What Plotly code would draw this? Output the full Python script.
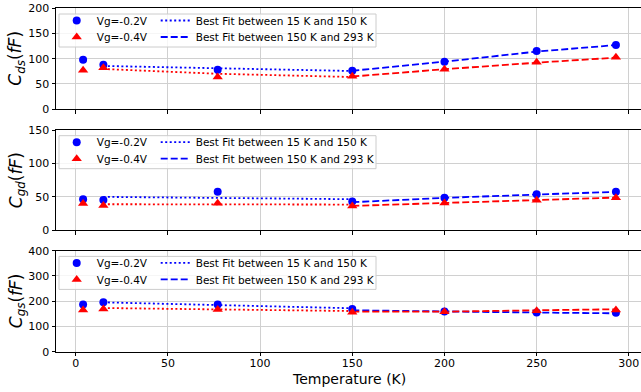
import plotly.graph_objects as go
from plotly.subplots import make_subplots

# ---------------- data ----------------
temps = [4, 15, 77, 150, 200, 250, 293]
fit_low_t = [15, 77, 150]
fit_high_t = [150, 200, 250, 293]

# Cds (fF)
cds_m02 = [98, 88, 78, 76, 94, 115, 127]
cds_m04 = [77, 82, 63.5, 65, 79, 93, 103]
cds_fit_low_m02 = [85.5, 80.5, 75.5]
cds_fit_low_m04 = [79.5, 70, 63.5]
cds_fit_high_m02 = [76, 94, 114, 127]
cds_fit_high_m04 = [64.5, 79, 92, 102]

# Cgd (fF)
cgd_m02 = [46.5, 45.5, 57.5, 43, 48.5, 54, 57.5]
cgd_m04 = [40, 37, 40.5, 36.5, 41, 45, 48.5]
cgd_fit_low_m02 = [50, 48.5, 46.5]
cgd_fit_low_m04 = [39, 39, 38.5]
cgd_fit_high_m02 = [42, 48.5, 53.5, 57.5]
cgd_fit_high_m04 = [36.5, 41, 45, 49]

# Cgs (fF)
cgs_m02 = [187, 196, 187, 169, 159, 155, 154]
cgs_m04 = [165, 169, 167, 156, 158, 162, 165]
cgs_fit_low_m02 = [195.5, 185, 172]
cgs_fit_low_m04 = [173, 168, 161]
cgs_fit_high_m02 = [164, 158.5, 155, 152]
cgs_fit_high_m04 = [158.5, 158.5, 164, 168]

y_titles = ["<i>C</i><sub><i>ds</i></sub>(<i>fF</i>)",
            "<i>C</i><sub><i>gd</i></sub>(<i>fF</i>)",
            "<i>C</i><sub><i>gs</i></sub>(<i>fF</i>)"]
y_ranges = [[0, 200], [0, 150], [0, 400]]
y_dticks = [50, 50, 100]
x_ticks = [0, 50, 100, 150, 200, 250, 300]
x_title = "Temperature (K)"
lbl_m02 = "Vg=-0.2V"
lbl_m04 = "Vg=-0.4V"
lbl_fit_low = "Best Fit between 15 K and 150 K"
lbl_fit_high = "Best Fit between 150 K and 293 K"

panels = [
    (cds_m02, cds_m04, cds_fit_low_m02, cds_fit_low_m04, cds_fit_high_m02, cds_fit_high_m04),
    (cgd_m02, cgd_m04, cgd_fit_low_m02, cgd_fit_low_m04, cgd_fit_high_m02, cgd_fit_high_m04),
    (cgs_m02, cgs_m04, cgs_fit_low_m02, cgs_fit_low_m04, cgs_fit_high_m02, cgs_fit_high_m04),
]

# ---------------- layout geometry (pixels) ----------------
W, H = 641, 392
ML = 56
PW = W - ML
panel_px = [(8.3, 109.0), (130.0, 230.3), (250.7, 351.7)]  # (top, bottom)

def py(p):
    return 1 - p / H

def px(p):
    return (p - ML) / PW

FONT = "DejaVu Sans"
BLUE = "#0000ff"
RED = "#ff0000"
GRID = "#d0d0d0"

fig = make_subplots(rows=3, cols=1, shared_xaxes=True, vertical_spacing=0.02)

def lgname(n):
    return "legend" if n == 1 else f"legend{n}"

for i, (m02, m04, fl02, fl04, fh02, fh04) in enumerate(panels):
    r = i + 1
    base = 4 * i
    lg_m02, lg_m04, lg_fl, lg_fh = (lgname(base + 1), lgname(base + 2),
                                    lgname(base + 3), lgname(base + 4))
    fig.add_trace(go.Scatter(x=fit_low_t, y=fl02, mode="lines", name=lbl_fit_low,
                             line=dict(color=BLUE, width=1.8, dash="2px,2.5px"),
                             legend=lg_fl), row=r, col=1)
    fig.add_trace(go.Scatter(x=fit_low_t, y=fl04, mode="lines", showlegend=False,
                             line=dict(color=RED, width=1.8, dash="2px,2.5px")), row=r, col=1)
    fig.add_trace(go.Scatter(x=fit_high_t, y=fh02, mode="lines", name=lbl_fit_high,
                             line=dict(color=BLUE, width=1.8, dash="7px,3px"),
                             legend=lg_fh), row=r, col=1)
    fig.add_trace(go.Scatter(x=fit_high_t, y=fh04, mode="lines", showlegend=False,
                             line=dict(color=RED, width=1.8, dash="7px,3px")), row=r, col=1)
    fig.add_trace(go.Scatter(x=temps, y=m02, mode="markers", name=lbl_m02,
                             marker=dict(color=BLUE, size=8, symbol="circle"),
                             legend=lg_m02), row=r, col=1)
    fig.add_trace(go.Scatter(x=temps, y=m04, mode="markers", name=lbl_m04,
                             marker=dict(color=RED, size=9, symbol="triangle-up"),
                             legend=lg_m04), row=r, col=1)

    top, bot = panel_px[i]
    fig.update_yaxes(row=r, col=1, domain=[py(bot), py(top)], range=y_ranges[i],
                     dtick=y_dticks[i], tick0=0, showline=True, linecolor="black",
                     linewidth=1, mirror=False, ticks="outside", ticklen=3.5,
                     tickwidth=1, tickcolor="black", showgrid=True, gridcolor=GRID,
                     gridwidth=1, zeroline=False,
                     tickfont=dict(family=FONT, size=11, color="black"))
    fig.update_xaxes(row=r, col=1, range=[-10.7, 306.6], tickvals=x_ticks,
                     showline=True, linecolor="black", linewidth=1, mirror=True,
                     ticks="outside", ticklen=3.5, tickwidth=1, tickcolor="black",
                     showgrid=True, gridcolor=GRID, gridwidth=1, zeroline=False,
                     showticklabels=(r == 3), ticklabelstandoff=-2,
                     tickfont=dict(family=FONT, size=11, color="black"))

    # legend box
    btop = top + 5.7
    bbot = btop + 33
    fig.add_shape(type="rect", xref="paper", yref="paper",
                  x0=px(59), x1=px(376), y0=py(bbot), y1=py(btop),
                  line=dict(color="#cccccc", width=1),
                  fillcolor="rgba(255,255,255,0.8)", layer="above")

    row1 = btop + 6.5
    row2 = btop + 23.0
    leg_common = dict(bgcolor="rgba(0,0,0,0)", borderwidth=0,
                      font=dict(family=FONT, size=10.5, color="black"),
                      xanchor="left", yanchor="middle")
    fig.update_layout({
        lg_m02: dict(x=px(56.7), y=py(row1), **leg_common),
        lg_m04: dict(x=px(56.7), y=py(row2), **leg_common),
        lg_fl: dict(x=px(155.7), y=py(row1), **leg_common),
        lg_fh: dict(x=px(155.7), y=py(row2), **leg_common),
    })

    fig.add_annotation(text=y_titles[i], xref="paper", yref="paper",
                       x=px(17), y=py((top + bot) / 2), xanchor="center",
                       yanchor="middle", textangle=-90, showarrow=False,
                       font=dict(family=FONT, size=17, color="black"))

fig.add_annotation(text=x_title, xref="paper", yref="paper", x=px(349), y=py(378.5),
                   xanchor="center", yanchor="middle", showarrow=False,
                   font=dict(family=FONT, size=14, color="black"))

fig.update_layout(width=W, height=H, margin=dict(l=ML, r=0, t=0, b=0, autoexpand=False),
                  plot_bgcolor="white", paper_bgcolor="white",
                  font=dict(family=FONT, color="black"))

fig.write_html("out.html", config={"displayModeBar": False},
               post_script="document.body.style.margin='0';")
